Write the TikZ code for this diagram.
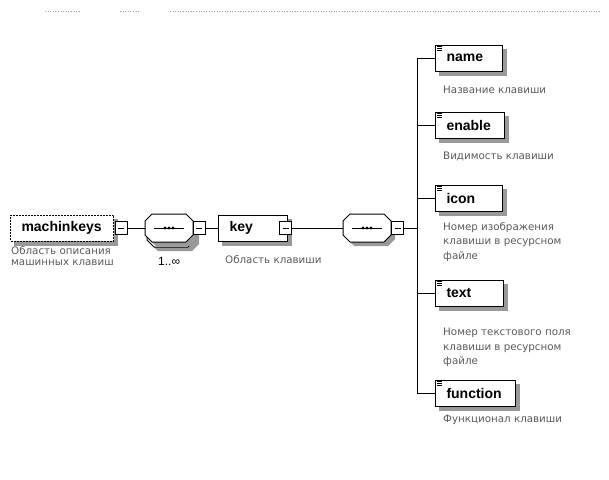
\documentclass[tikz,border=0pt]{standalone}
\usepackage{fontspec}
\setmainfont{Liberation Sans}
\newfontfamily\descfont{DejaVu Sans}
\usetikzlibrary{backgrounds}
\colorlet{shadowc}{black!40}
\tikzset{
  elem/.style={draw, line width=1pt, fill=white, inner xsep=11pt, inner ysep=0pt,
    minimum height=26pt, align=left, anchor=west,
    font=\bfseries\fontsize{14}{16}\selectfont},
  optelem/.style={elem, dash pattern=on 2pt off 1pt},
  minusbox/.style={draw, line width=0.9pt, fill=white, minimum width=12pt, minimum height=13pt, inner sep=0pt,
    path picture={\draw[line width=0.8pt] ([xshift=3pt]path picture bounding box.west) -- ([xshift=-3pt]path picture bounding box.east);}},
  seqanchor/.style={inner sep=0pt, minimum width=48pt, minimum height=28pt},
  octline/.style={line width=1pt, fill=white},
  conn/.style={line width=0.9pt},
  desc/.style={anchor=north west, inner sep=0pt, align=left, text=black!65,
    font=\descfont\fontsize{10.3}{14.5}\selectfont},
  card/.style={inner sep=0pt, font=\fontsize{12}{14}\selectfont}
}
% #1 centre x, #2 centre y, #3 style
\newcommand\octpathat[3]{%
  \path[#3] (#1-17,#2+14) -- (#1+17,#2+14) -- (#1+24,#2+7) -- (#1+24,#2-7) -- (#1+17,#2-14) -- (#1-17,#2-14) -- (#1-24,#2-7) -- (#1-24,#2+7) -- cycle;}
\newcommand\seqgroup[3]{% name, cx, cy
  \octpathat{#2+4}{#3-4}{fill=shadowc}
  \octpathat{#2}{#3}{draw,octline}
  \draw[line width=0.8pt] (#2-15,#3) -- (#2+15,#3);
  \foreach \dx in {-4,0,4} \fill (#2+\dx,#3) circle (1.7);
  \node[seqanchor] (#1) at (#2,#3) {};}
\begin{document}
\begin{tikzpicture}[x=1pt,y=1pt]
\useasboundingbox (0,0) rectangle (609,-479);
% faint scan line at top
\draw[black!35, dotted, line width=0.6pt] (45,-11) -- (80,-11) (120,-11) -- (140,-11) (170,-11) -- (600,-11);

% root element
\node[optelem, text width=81pt] (mk) at (10,-228) {machinkeys};
\node[desc, font=\descfont\fontsize{10.3}{11.5}\selectfont] (mkd) at (11,-246) {Область описания\\машинных клавиш};

% first sequence (repeated)
\octpathat{175}{-237}{fill=shadowc}
\octpathat{171}{-233}{draw,octline}
\seqgroup{oct1}{169}{-228}
\node[card, anchor=west] (c1) at (158,-261) {1..∞};

% key element
\node[elem, text width=47pt] (key) at (218,-228) {key};
\node[desc] (keyd) at (225,-255) {Область клавиши};

% second sequence
\seqgroup{oct2}{367}{-228}
\coordinate (bus) at (417,-228);

% children
\node[elem, text width=45pt] (name) at (435,-58) {name};
\node[elem, text width=47pt] (enable) at (435,-125) {enable};
\node[elem, text width=45pt] (icon) at (435,-198) {icon};
\node[elem, text width=46pt] (text) at (435,-293) {text};
\node[elem, text width=58pt] (function) at (435,-393) {function};

\begin{scope}[on background layer]
\foreach \n in {mk,key,name,enable,icon,text,function}
  \fill[shadowc] ([shift={(4pt,-4pt)}]\n.south west) rectangle ([shift={(4pt,-4pt)}]\n.north east);
\end{scope}

\foreach \n in {name,enable,icon,text,function}{
  \foreach \dy in {2,4,6}
    \draw[line width=0.6pt] ([xshift=2pt,yshift=-\dy pt]\n.north west) -- ++(5,0);
}

% collapse boxes
\node[minusbox] (mkm) at (121,-228) {};
\node[minusbox] (o1m) at (199,-228) {};
\node[minusbox] (keym) at (285.5,-228) {};
\node[minusbox] (o2m) at (397.5,-228) {};

\node[desc] (named) at (443,-86) {Название клавиши};
\node[desc] (enabled) at (443,-152) {Видимость клавиши};
\node[desc] (icond) at (443,-222) {Номер изображения\\клавиши в ресурсном\\файле};
\node[desc] (textd) at (443,-328) {Номер текстового поля\\клавиши в ресурсном\\файле};
\node[desc] (functiond) at (443,-415) {Функционал клавиши};

% connectors
\draw[conn] (mkm.east) -- (oct1.west);
\draw[conn] (o1m.east) -- (key.west);
\draw[conn] (keym.east) -- (oct2.west);
\draw[conn] (o2m.east) -- (bus);
\draw[conn] (name.west -| bus) -- (function.west -| bus);
\foreach \n in {name,enable,icon,text,function}
  \draw[conn] (\n.west -| bus) -- (\n.west);
\end{tikzpicture}
\end{document}
